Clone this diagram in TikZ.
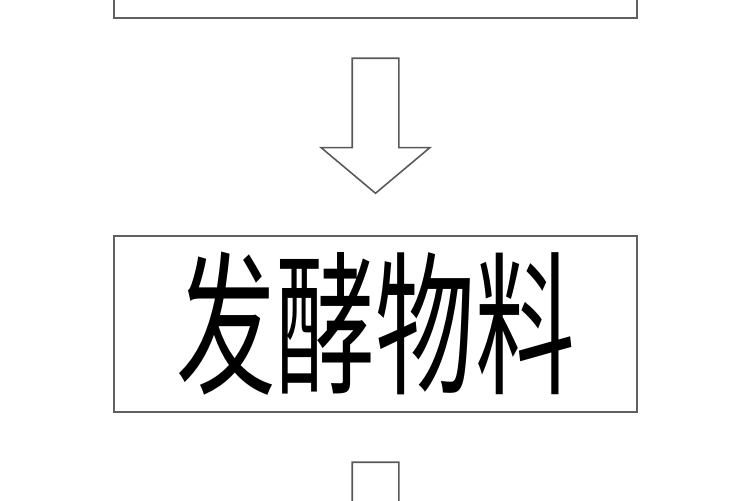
\documentclass[tikz,border=0pt]{standalone}
\usepackage{fontspec}
\newfontfamily\cjk{Noto Sans CJK SC}
\usetikzlibrary{shapes.arrows}
\tikzset{
  stepbox/.style={draw=gray!75!black, line width=1.1pt, rectangle, minimum width=10.46cm, minimum height=3.52cm, inner sep=0pt},
  flowarrow/.style={draw=gray!70!black, line width=0.9pt, single arrow, rotate=-90, minimum height=2.7cm, single arrow head extend=0.62cm, single arrow tip angle=100, single arrow head indent=0pt, inner xsep=0pt, inner ysep=0.45cm}
}

\begin{document}
\begin{tikzpicture}[x=0.02cm, y=-0.02cm]
	\clip (0,0) rectangle (750,500);
	\useasboundingbox (0,0) rectangle (750,500);
	\node[stepbox] (prev) at (375.5, -70) {};
	\node[stepbox] (ferment) at (375.5, 324) {\cjk\scalebox{0.645}[1]{\fontsize{88}{90}\selectfont 发酵物料}};
	\node[flowarrow] (arrA) at (375.5, 116) {};
	\node[flowarrow] (arrB) at (375.5, 520) {};
\end{tikzpicture}
\end{document}
